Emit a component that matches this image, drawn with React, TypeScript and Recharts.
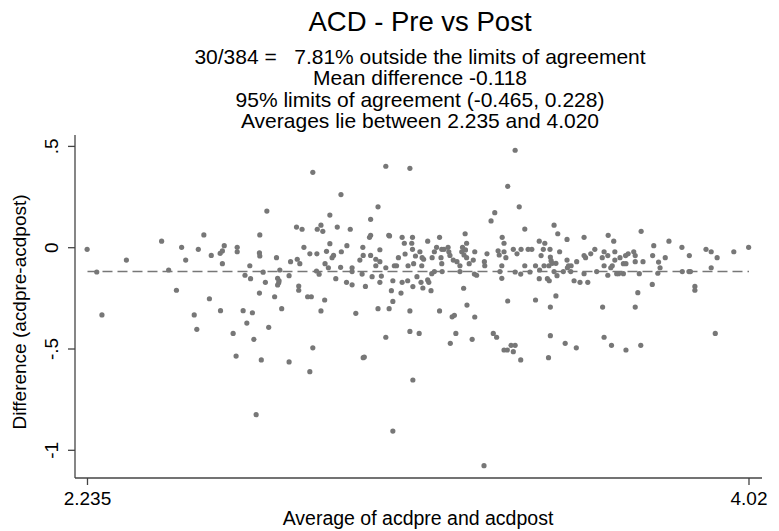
import { ScatterChart, Scatter, XAxis, YAxis, ReferenceLine } from 'recharts';

// Bland-Altman plot: ACD pre vs post
const title = 'ACD - Pre vs Post';
const subtitles = [
  '30/384 =   7.81% outside the limits of agreement',
  'Mean difference -0.118',
  '95% limits of agreement (-0.465, 0.228)',
  'Averages lie between 2.235 and 4.020',
];
const xLabel = 'Average of acdpre and acdpost';
const yLabel = 'Difference (acdpre-acdpost)';

const meanDiff = -0.118;
const minAvg = 2.235;
const maxAvg = 4.02;
const xTicks = [2.235, 4.02];
const xTickLabels = ['2.235', '4.02'];
const yTicks = [-1, -0.5, 0, 0.5];
const yTickLabels = ['-1', '-.5', '0', '.5'];

// [average, difference]
const leftPoints: [number, number][] = [
  [2.234, -0.008], [2.26, -0.12], [2.274, -0.332], [2.34, -0.061], [2.435, 0.032],
  [2.454, -0.11], [2.475, -0.21], [2.489, 0.002], [2.5, -0.061], [2.523, -0.332],
  [2.534, -0.008], [2.549, 0.063], [2.564, -0.252], [2.569, -0.038], [2.593, -0.028],
  [2.599, -0.016], [2.604, 0.01], [2.599, -0.079], [2.594, -0.311], [2.639, 0.002],
  [2.639, -0.02], [2.655, -0.311], [2.66, -0.136], [2.673, -0.089], [2.675, -0.153],
  [2.68, -0.321], [2.7, 0.063], [2.699, -0.026], [2.699, -0.224], [2.53, -0.403],
  [2.665, -0.372], [2.628, -0.423], [2.684, -0.452], [2.636, -0.535], [2.69, -0.824],
  [2.724, -0.393], [2.759, -0.301], [2.704, -0.554], [2.779, -0.564], [2.719, 0.181],
  [2.745, -0.049], [2.7, -0.041], [2.715, -0.171], [2.748, -0.151], [2.751, -0.173],
  [2.748, -0.184], [2.752, -0.163], [2.779, -0.138], [2.74, -0.242], [2.709, -0.121],
  [2.754, -0.11], [2.783, -0.069], [2.799, 0.102],
];

const middlePoints: [number, number][] = [
  [2.865, -0.312], [2.875, -0.258], [2.843, -0.494], [2.835, -0.612], [2.959, -0.324],
  [2.979, -0.543], [2.982, -0.54], [3.019, -0.301], [3.049, -0.301], [3.059, -0.265],
  [3.04, -0.442], [3.105, -0.312], [3.105, -0.413], [3.13, -0.423], [3.113, -0.653],
  [3.059, -0.905], [3.185, -0.312], [3.219, -0.341], [3.225, -0.334], [3.259, -0.283],
  [3.28, -0.342], [3.214, -0.472], [3.229, -0.423], [3.273, -0.452], [3.33, -0.423],
  [3.339, -0.442], [3.305, -1.076], [2.843, 0.372], [3.04, 0.402], [3.105, 0.392],
  [2.919, 0.262], [3.019, 0.202], [2.889, 0.161], [2.999, 0.14], [2.814, 0.091],
  [2.855, 0.091], [2.865, 0.111], [2.87, 0.081], [2.909, 0.102], [2.944, 0.091],
  [2.999, 0.061], [2.996, 0.051], [3.048, 0.061], [3.05, 0.058], [3.084, 0.051],
  [3.112, 0.051], [3.11, 0.022], [3.09, 0.022], [3.153, 0.032], [3.185, 0.051],
  [3.254, 0.069], [3.258, 0.022], [3.324, 0.132], [3.334, 0.173], [2.819, 0.002],
  [2.835, -0.03], [2.854, -0.03], [2.889, 0.02], [2.88, -0.018], [2.895, -0.049],
  [2.899, -0.038], [2.935, 0.01], [2.92, -0.02], [2.801, -0.057], [2.808, -0.079],
  [2.876, -0.079], [2.885, -0.099], [2.918, -0.097], [2.949, -0.099], [2.97, -0.061],
  [2.978, 0.002], [2.979, -0.038], [2.999, -0.038], [3.024, -0.01], [3.013, -0.089],
  [3.013, -0.057], [3.04, -0.099], [3.063, -0.089], [3.069, -0.089], [3.074, -0.049],
  [3.092, -0.031], [3.1, -0.089], [3.112, -0.008], [3.115, -0.079], [3.12, -0.041],
  [3.132, -0.02], [3.138, -0.049], [3.142, -0.057], [3.137, -0.089], [3.165, -0.049],
  [3.171, -0.02], [3.177, 0.002], [3.191, -0.008], [3.197, -0.008], [3.189, -0.049],
  [3.191, -0.079], [3.208, 0.002], [3.21, -0.02], [3.213, -0.038], [3.222, -0.061],
  [3.232, -0.069], [3.24, -0.089], [3.247, 0.002], [3.245, -0.02], [3.255, -0.011],
  [3.251, -0.036], [3.258, -0.049], [3.265, -0.079], [3.276, -0.061], [3.28, -0.02],
  [3.306, -0.069], [3.313, -0.03], [3.307, -0.089], [3.343, -0.015], [3.346, -0.036],
  [2.805, -0.189], [2.805, -0.21], [2.829, -0.242], [2.839, -0.242], [2.853, -0.115],
  [2.86, -0.131], [2.905, -0.153], [2.934, -0.171], [2.949, -0.183], [2.985, -0.191],
  [2.976, -0.13], [3.003, -0.143], [3.028, -0.14], [3.024, -0.171], [3.055, -0.212],
  [3.081, -0.224], [3.059, -0.163], [3.084, -0.171], [3.099, -0.163], [3.113, -0.192],
  [3.124, -0.143], [3.135, -0.171], [3.14, -0.199], [3.153, -0.159], [3.162, -0.212],
  [3.156, -0.171], [3.164, -0.128], [3.171, -0.118], [3.192, -0.118], [3.24, -0.118],
  [3.279, -0.13], [3.285, -0.136], [3.25, -0.2], [3.024, -0.069], [2.949, -0.118],
];

const rightPoints: [number, number][] = [
  [3.369, -0.263], [3.444, -0.258], [3.484, -0.293], [3.625, -0.293], [3.713, -0.293],
  [3.359, -0.505], [3.368, -0.505], [3.378, -0.482], [3.389, -0.482], [3.384, -0.513],
  [3.404, -0.554], [3.484, -0.434], [3.479, -0.543], [3.524, -0.472], [3.554, -0.494],
  [3.629, -0.442], [3.649, -0.482], [3.688, -0.505], [3.728, -0.482], [3.929, -0.423],
  [3.389, 0.481], [3.369, 0.303], [3.4, 0.202], [3.415, 0.092], [3.494, 0.111],
  [3.504, 0.069], [3.529, 0.041], [3.575, 0.051], [3.64, 0.061], [3.655, 0.032],
  [3.729, 0.081], [3.763, 0.01], [3.804, 0.032], [3.839, 0.002], [3.904, -0.008],
  [3.918, -0.02], [3.979, -0.02], [4.019, 0.002], [3.934, -0.049], [3.918, -0.099],
  [3.859, -0.039], [3.858, -0.118], [3.862, -0.118], [3.874, -0.191], [3.874, -0.21],
  [3.84, -0.118], [3.794, -0.049], [3.78, -0.099], [3.776, -0.071], [3.774, -0.126],
  [3.76, -0.039], [3.759, -0.181], [3.734, -0.069], [3.724, -0.128], [3.72, -0.222],
  [3.713, -0.039], [3.713, -0.069], [3.709, -0.02], [3.694, -0.03], [3.687, -0.039],
  [3.681, -0.079], [3.688, -0.079], [3.672, -0.049], [3.658, -0.02], [3.658, -0.061],
  [3.651, -0.089], [3.647, -0.099], [3.639, -0.039], [3.639, -0.136], [3.629, -0.02],
  [3.629, -0.089], [3.624, -0.049], [3.668, -0.128], [3.681, -0.128], [3.663, -0.128],
  [3.604, -0.008], [3.593, -0.03], [3.575, -0.039], [3.579, -0.049], [3.575, -0.128],
  [3.555, -0.069], [3.54, -0.089], [3.533, -0.089], [3.529, -0.061], [3.53, -0.099],
  [3.539, -0.118], [3.519, -0.118], [3.548, -0.163], [3.564, -0.171], [3.585, -0.171],
  [3.609, -0.118], [3.509, -0.02], [3.499, -0.077], [3.499, -0.238], [3.483, -0.008],
  [3.484, -0.046], [3.486, -0.064], [3.48, -0.089], [3.489, -0.077], [3.494, -0.118],
  [3.502, -0.138], [3.476, -0.153], [3.481, -0.163], [3.467, -0.089], [3.459, -0.039],
  [3.465, -0.008], [3.469, 0.022], [3.454, 0.032], [3.454, -0.153], [3.444, -0.089],
  [3.434, -0.008], [3.424, -0.008], [3.429, -0.12], [3.415, -0.089], [3.405, -0.008],
  [3.404, -0.13], [3.394, -0.03], [3.389, -0.12], [3.384, -0.008], [3.364, -0.049],
  [3.359, -0.02], [3.359, 0.022], [3.354, 0.051], [3.353, -0.089], [3.353, -0.151],
  [3.348, -0.118], [3.455, -0.11],
];

const points = [...leftPoints, ...middlePoints, ...rightPoints].map(([avg, diff]) => ({ avg, diff }));

const FONT = '"Liberation Sans", Arial, Helvetica, sans-serif';
const AXIS = '#444';
const DOT = '#777';

const YTick = ({ x, y, payload }: any) => {
  const idx = yTicks.indexOf(payload.value);
  return (
    <text
      transform={`translate(${x - 10},${y}) rotate(-90)`}
      textAnchor="middle"
      fontFamily={FONT}
      fontSize={19}
      fill="#000"
    >
      {idx >= 0 ? yTickLabels[idx] : payload.value}
    </text>
  );
};

const XTick = ({ x, y, payload }: any) => {
  const idx = xTicks.indexOf(payload.value);
  return (
    <text x={x} y={y + 20} textAnchor="middle" fontFamily={FONT} fontSize={19} fill="#000">
      {idx >= 0 ? xTickLabels[idx] : payload.value}
    </text>
  );
};

const Dot = (props: any) => <circle cx={props.cx} cy={props.cy} r={2.6} fill={DOT} />;

export default function App() {
  return (
    <div style={{ position: 'absolute', left: 0, top: 0, width: 779, height: 531, background: '#fff' }}>
      <ScatterChart width={779} height={531} margin={{ top: 135, right: 17, bottom: 0, left: 0 }}>
        <XAxis
          type="number"
          dataKey="avg"
          domain={[2.2013, 4.0551]}
          allowDataOverflow
          ticks={xTicks}
          height={53}
          tickSize={7}
          tickMargin={0}
          tick={<XTick />}
          axisLine={{ stroke: AXIS, strokeWidth: 1.3 }}
          tickLine={{ stroke: AXIS, strokeWidth: 1.3 }}
        />
        <YAxis
          type="number"
          dataKey="diff"
          domain={[-1.1367, 0.5563]}
          allowDataOverflow
          ticks={yTicks}
          width={75}
          tickSize={7}
          tickMargin={0}
          tick={<YTick />}
          axisLine={{ stroke: AXIS, strokeWidth: 1.3 }}
          tickLine={{ stroke: AXIS, strokeWidth: 1.3 }}
        />
        <ReferenceLine
          segment={[{ x: minAvg, y: meanDiff }, { x: maxAvg, y: meanDiff }]}
          stroke={DOT}
          strokeWidth={1.5}
          strokeDasharray="10 5"
        />
        <Scatter data={points} shape={<Dot />} isAnimationActive={false} />
      </ScatterChart>
      <svg
        width={779}
        height={531}
        style={{ position: 'absolute', left: 0, top: 0, pointerEvents: 'none' }}
        fontFamily={FONT}
      >
        <text x={420} y={31} textAnchor="middle" fontSize={27.5} fill="#000">
          {title}
        </text>
        {subtitles.map((s, i) => (
          <text
            key={i}
            x={420}
            y={63.5 + i * 21.5}
            textAnchor="middle"
            fontSize={21}
            fill="#000"
            style={{ whiteSpace: 'pre' }}
          >
            {s}
          </text>
        ))}
        <text x={418} y={525} textAnchor="middle" fontSize={19.5} fill="#000">
          {xLabel}
        </text>
        <text transform="translate(26,312) rotate(-90)" textAnchor="middle" fontSize={19} fill="#000">
          {yLabel}
        </text>
      </svg>
    </div>
  );
}
